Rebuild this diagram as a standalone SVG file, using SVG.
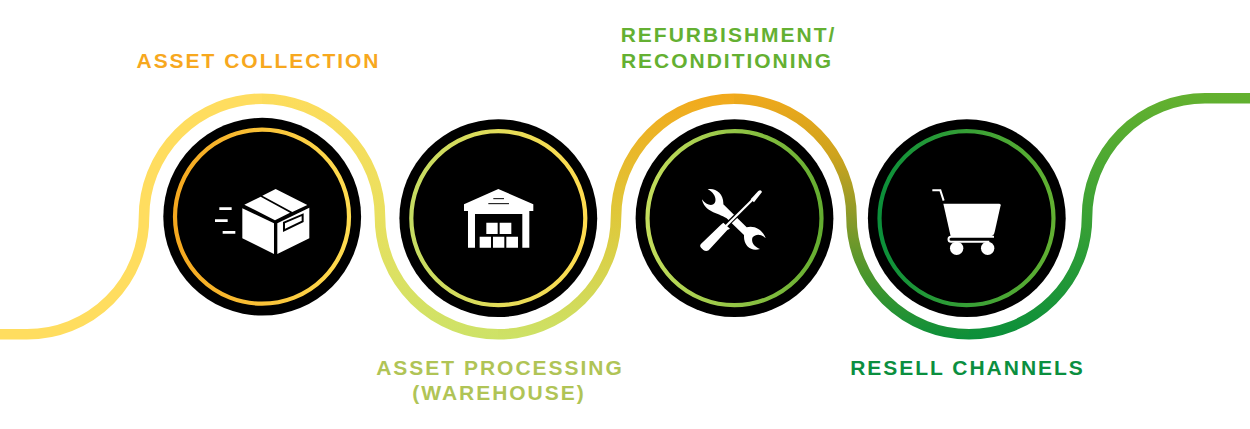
<svg xmlns="http://www.w3.org/2000/svg" width="1250" height="429" viewBox="0 0 1250 429">
<style>
.seg{fill:none;stroke-width:10.600}
.disc{fill:#000}
.ring{fill:none;stroke-width:4.200}
.lbl{font-family:"Liberation Sans",Arial,sans-serif;font-weight:700;font-size:21px;letter-spacing:1.98px;text-anchor:middle}
.w{fill:#fff}
.wl{fill:none;stroke:#fff}
.k{fill:none;stroke:#000}
</style>
<defs>
<linearGradient id="b" gradientUnits="userSpaceOnUse" x1="0" y1="93" x2="0" y2="340"><stop offset="0" stop-color="#fddc5c"/><stop offset=".5" stop-color="#e9e05f"/><stop offset="1" stop-color="#cde267"/></linearGradient>
<linearGradient id="c" gradientUnits="userSpaceOnUse" x1="0" y1="93" x2="0" y2="340"><stop offset="0" stop-color="#f2a91c"/><stop offset=".5" stop-color="#dfc83a"/><stop offset="1" stop-color="#cde267"/></linearGradient>
<linearGradient id="d" gradientUnits="userSpaceOnUse" x1="0" y1="93" x2="0" y2="340"><stop offset="0" stop-color="#f0a91c"/><stop offset=".25" stop-color="#cea31e"/><stop offset=".5" stop-color="#8b9a2a"/><stop offset=".75" stop-color="#47962c"/><stop offset="1" stop-color="#0b8f3a"/></linearGradient>
<linearGradient id="e" gradientUnits="userSpaceOnUse" x1="0" y1="93" x2="0" y2="340"><stop offset="0" stop-color="#64b12f"/><stop offset=".5" stop-color="#3aa135"/><stop offset="1" stop-color="#0b8f3a"/></linearGradient>
<linearGradient id="r1"><stop offset="0" stop-color="#f5a81f"/><stop offset="1" stop-color="#ffdc50"/></linearGradient>
<linearGradient id="r2"><stop offset="0" stop-color="#c5dc62"/><stop offset="1" stop-color="#ffdc50"/></linearGradient>
<linearGradient id="r3"><stop offset="0" stop-color="#c3dd5c"/><stop offset="1" stop-color="#64ad30"/></linearGradient>
<linearGradient id="r4"><stop offset="0" stop-color="#0b8f3a"/><stop offset="1" stop-color="#62b032"/></linearGradient>
</defs>
<g id="connectors">
<path class="seg" stroke="#ffdd5f" d="M0 334.300H27A117 117 0 0 0 144 217.300A118 118.500 0 0 1 262 98.700"/>
<path class="seg" stroke="url(#b)" d="M262 98.700A118 118.500 0 0 1 380 217.300A118 117 0 0 0 498 334.300"/>
<path class="seg" stroke="url(#c)" d="M498 334.300A118 117 0 0 0 616 217.300A118 118.500 0 0 1 734 98.700"/>
<path class="seg" stroke="url(#d)" d="M734 98.700A117.500 118.500 0 0 1 851.500 217.300A117.500 117 0 0 0 969 334.300"/>
<path class="seg" stroke="url(#e)" d="M969 334.300A118 117 0 0 0 1087 217.300A118 119 0 0 1 1205 98.300H1250"/>
</g>
<g id="node-collection">
<circle class="disc" cx="262.200" cy="216.700" r="98.900"/>
<circle class="ring" stroke="url(#r1)" cx="262" cy="216.700" r="87"/>
<g transform="translate(160 110) scale(.3333)">
<path class="w" d="M247 295L342 340V432L247 385ZM352 340L448 293V385L352 432ZM253 284L302 260L390 308L345 331ZM307 257L347 237L442 285L397 306Z"/>
<path class="k" stroke-width="6" d="M372 338L428 314V334L372 361Z"/>
<path class="wl" stroke-width="8" d="M178 296H215M165 332H203M188 367H226"/>
</g>
<text class="lbl" x="258.500" y="68" fill="#f7a81e">ASSET COLLECTION</text>
</g>
<g id="node-processing">
<circle class="disc" cx="498.300" cy="218.200" r="98.900"/>
<circle class="ring" stroke="url(#r2)" cx="498.300" cy="218.200" r="87"/>
<g transform="translate(395 110) scale(.3333)">
<path class="w" d="M310 237L415 283V303H403V413H382V312H240V413H219V303H207V283Z"/>
<path class="k" stroke-width="3" d="M295 266H327M280 281H342"/>
<path class="w" d="M274 338h34v34h-34zM314 338h35v34h-35zM254 380h34v33h-34zM294 380h34v33h-34zM334 380h35v33h-35z"/>
</g>
<text class="lbl" fill="#b0c456" x="500" y="375">ASSET PROCESSING</text>
<text class="lbl" fill="#b0c456" x="499" y="400">(WAREHOUSE)</text>
</g>
<g id="node-refurbishment">
<circle class="disc" cx="734.500" cy="218.200" r="98.900"/>
<circle class="ring" stroke="url(#r3)" cx="734.500" cy="218.200" r="87"/>
<g transform="translate(630 110) scale(.3333)">
<path class="w" d="M233 238C255 232 282 250 280 283L350 352C375 345 400 362 407 385C395 372 378 370 368 382C362 395 372 410 390 417C365 425 340 410 342 375L290 325C262 308 222 305 216 268C226 282 240 288 250 283C262 275 258 250 233 238Z"/>
<path class="k" stroke-width="14" d="M285 350L375 262"/>
<path class="w" d="M212 403L272 345L280 338L300 356L292 360L236 421Q228 426 220 420L213 413Q208 408 212 403Z"/>
<path class="wl" stroke-width="6.500" d="M288 348L372 265"/>
<path class="w" d="M362 268L385 243Q393 238 396 246L372 277Z"/>
</g>
<text class="lbl" fill="#64b032" x="728.500" y="42">REFURBISHMENT/</text>
<text class="lbl" fill="#64b032" x="727" y="68">RECONDITIONING</text>
</g>
<g id="node-resell">
<circle class="disc" cx="966.800" cy="218.200" r="98.900"/>
<circle class="ring" stroke="url(#r4)" cx="966.500" cy="218.200" r="87"/>
<g transform="translate(860 110) scale(.3333)">
<path class="wl" stroke-width="6" d="M217 241H241L251 272"/>
<path class="w" d="M250 281H418Q423 281 422 286L404 366Q401 379 390 379H272Z"/>
<path class="wl" stroke-width="6" d="M402 380H273a7.500 7.500 0 0 0 0 15H388"/>
<circle class="w" cx="290" cy="415" r="20"/>
<circle class="w" cx="383" cy="415" r="20"/>
</g>
<text class="lbl" fill="#0b8f3f" x="967.500" y="375">RESELL CHANNELS</text>
</g>
</svg>
